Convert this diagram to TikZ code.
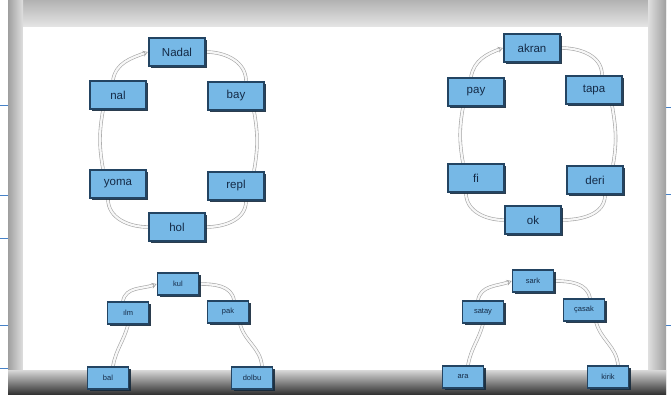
\documentclass[tikz,border=0pt]{standalone}
\usepackage{fontspec}
\setmainfont{Liberation Sans}
\usetikzlibrary{arrows.meta,shadows}
\definecolor{boxfill}{RGB}{118,184,230}
\definecolor{boxline}{RGB}{35,68,98}
\definecolor{boxtext}{RGB}{20,42,70}
\definecolor{linkgray}{RGB}{165,165,165}
\definecolor{markblue}{RGB}{70,130,200}
\pgfdeclarelayer{framelayer}
\pgfdeclarelayer{linklayer}
\pgfsetlayers{framelayer,linklayer,main}
\begin{document}
\begin{tikzpicture}[x=1pt,y=1pt,
 bigbox/.style={draw=boxline, line width=2.2pt, fill=boxfill, minimum width=56pt, minimum height=28pt, inner sep=0pt, text=boxtext, font=\fontsize{11.5}{12}\selectfont, drop shadow={shadow xshift=2.2pt, shadow yshift=-2.2pt, fill=boxline!60!black, opacity=0.9}},
 smallbox/.style={bigbox, line width=1.8pt, minimum width=41pt, minimum height=22pt, font=\fontsize{7.5}{8}\selectfont},
 link/.style={draw=linkgray, line width=0.6pt, double=gray!6, double distance=2.2pt},
 linkarrow/.style={link, -{Stealth[length=5pt,width=6pt,open]}},
 sidemark/.style={draw=markblue, line width=0.8pt}
]
\useasboundingbox (0,0) rectangle (671,-394);
% frame
\begin{pgfonlayer}{framelayer}
\fill[white] (0,0) rectangle (671,-394);
\shade[top color=gray!60, bottom color=gray!20] (8,0) rectangle (666,-27);
\shade[left color=gray!75, right color=gray!25] (8,0) rectangle (23,-394);
\shade[left color=gray!25, right color=gray!75] (648,0) rectangle (666,-394);
\shade[top color=gray!30, bottom color=black!80] (8,-370) rectangle (666,-394);
\fill[white] (23,-27) rectangle (648,-370);
\foreach \yy in {105,195,238,325,368} { \draw[sidemark] (0,-\yy) -- (8,-\yy); }
\foreach \yy in {107,194,325} { \draw[sidemark] (666,-\yy) -- (671,-\yy); }
\end{pgfonlayer}

% left cycle
\node[bigbox] (nadal) at (177,-52) {Nadal};
\node[bigbox] (nal) at (118,-95) {nal};
\node[bigbox] (bay) at (236,-96) {bay};
\node[bigbox] (yoma) at (118,-184) {yoma};
\node[bigbox] (repl) at (236,-186) {repl};
\node[bigbox] (hol) at (177,-227) {hol};

% right cycle
\node[bigbox] (akran) at (532,-48) {akran};
\node[bigbox] (pay) at (476,-92) {pay};
\node[bigbox] (tapa) at (594,-90) {tapa};
\node[bigbox] (fi) at (476,-178) {fi};
\node[bigbox] (deri) at (595,-180) {deri};
\node[bigbox] (ok) at (533,-220) {ok};

% bottom left
\node[smallbox] (kul) at (178,-284) {kul};
\node[smallbox] (ilm) at (128,-313) {ılm};
\node[smallbox] (pak) at (228,-312) {pak};
\node[smallbox] (bal) at (108,-378) {bal};
\node[smallbox] (dolbu) at (252,-378) {dolbu};

% bottom right
\node[smallbox] (sark) at (533,-281) {sark};
\node[smallbox] (satay) at (483,-312) {satay};
\node[smallbox] (casak) at (584,-310) {çasak};
\node[smallbox] (ara) at (463,-377) {ara};
\node[smallbox] (kirik) at (608,-377) {kirik};

\begin{pgfonlayer}{linklayer}
% left cycle
\draw[link] (nadal.east) to[out=0,in=90] ([xshift=10pt]bay.north);
\draw[link] ([xshift=18pt]bay.south) to[out=-80,in=80] ([xshift=18pt]repl.north);
\draw[link] ([xshift=10pt]repl.south) to[out=-90,in=0] (hol.east);
\draw[link] (hol.west) to[out=180,in=-90] ([xshift=-10pt]yoma.south);
\draw[link] ([xshift=-15pt]yoma.north) to[out=100,in=-100] ([xshift=-15pt]nal.south);
\draw[linkarrow] ([xshift=-5pt]nal.north) to[out=80,in=200] (nadal.west);
% right cycle
\draw[link] (akran.east) to[out=0,in=90] ([xshift=8pt]tapa.north);
\draw[link] ([xshift=18pt]tapa.south) to[out=-80,in=80] ([xshift=18pt]deri.north);
\draw[link] ([xshift=10pt]deri.south) to[out=-90,in=0] (ok.east);
\draw[link] (ok.west) to[out=180,in=-90] ([xshift=-10pt]fi.south);
\draw[link] ([xshift=-13pt]fi.north) to[out=100,in=-100] ([xshift=-13pt]pay.south);
\draw[linkarrow] ([xshift=-5pt]pay.north) to[out=80,in=200] (akran.west);
% bottom left
\draw[link] ([xshift=5pt]bal.north) to[out=80,in=-105] (ilm.south);
\draw[linkarrow] ([xshift=-5pt]ilm.north) to[out=80,in=200] (kul.west);
\draw[link] (kul.east) to[out=0,in=100] ([xshift=6pt]pak.north);
\draw[link] ([xshift=12pt]pak.south) to[out=-75,in=95] ([xshift=10pt]dolbu.north);
% bottom right
\draw[link] ([xshift=5pt]ara.north) to[out=80,in=-105] (satay.south);
\draw[linkarrow] ([xshift=-5pt]satay.north) to[out=80,in=200] (sark.west);
\draw[link] (sark.east) to[out=0,in=100] ([xshift=6pt]casak.north);
\draw[link] ([xshift=12pt]casak.south) to[out=-75,in=95] ([xshift=10pt]kirik.north);
\end{pgfonlayer}
\end{tikzpicture}
\end{document}
